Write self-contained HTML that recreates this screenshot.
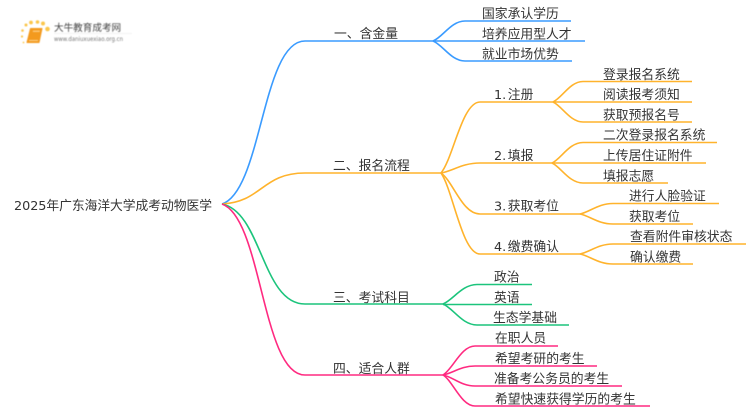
<!DOCTYPE html>
<html><head><meta charset="utf-8">
<style>
html,body{margin:0;padding:0;background:#fff}
svg{display:block}
text{font-family:"DejaVu Sans","Noto Sans CJK SC",sans-serif;font-size:12.8px;fill:#333;word-spacing:-2.5px}
path{fill:none;stroke-width:1.6}
.b path{stroke:#3a9bff}.o path{stroke:#ffb32c}.g path{stroke:#1cc47c}.p path{stroke:#ff2a80}
.t{filter:blur(.25px)}
</style></head>
<body>
<svg width="750" height="410" viewBox="0 0 750 410" xmlns="http://www.w3.org/2000/svg">
<!-- logo -->
<g style="filter:blur(.4px)">
<g fill="#fbc64a" stroke="none">
<circle cx="47.500" cy="29" r="2.300"/><circle cx="43" cy="23.500" r="2"/><circle cx="37.500" cy="22" r="1.800"/><circle cx="31" cy="22.500" r="1.900"/><circle cx="26" cy="25" r="1.500"/><circle cx="22.500" cy="30.500" r="1.300"/><circle cx="22" cy="36.500" r="1.100"/><circle cx="23.500" cy="42.500" r=".9"/>
</g>
<polygon points="30.500,28.500 42,28.500 39,42.500 27,42.500" fill="#f39a1e" stroke="#f39a1e" stroke-width="1" stroke-linejoin="round"/>
<polygon points="33,30.500 40,30.500 39.700,32 32.700,32" fill="#fbc878"/>
<line x1="29" y1="40.500" x2="38" y2="40.500" stroke="#fde3b0" stroke-width=".8"/>
<text x="54" y="31" style="font-size:9.600px;fill:#444;word-spacing:0">大牛教育成考网</text>
<text x="54" y="41" textLength="69" lengthAdjust="spacingAndGlyphs" style="font-size:6.500px;fill:#777;word-spacing:0">www.daniuxuexiao.org.cn</text>
<line x1="54" y1="33.500" x2="132" y2="33.500" stroke="#eee" stroke-width=".8"/>
</g>

<g class="b">
<path d="M222 204C262 191 262 41 305 41H433"/>
<path d="M433 41C443 37 451 21 465 21H571"/>
<path d="M433 41H585"/>
<path d="M433 41C443 45 451 61 465 61H572"/>
</g>
<g class="o">
<path d="M222 204C262 202 262 173 305 173H441"/>
<path d="M441 173C453 159 462 102 480 102H553"/>
<path d="M441 173C453 171 462 163 480 163H552"/>
<path d="M441 173C453 181 462 214 480 214H580"/>
<path d="M441 173C453 190 462 254 480 254H580"/>
<path d="M553 102C562 98 570 81.500 583 81.500H692"/>
<path d="M553 102H692"/>
<path d="M553 102C562 106 570 122 583 122H692"/>
<path d="M552 163C561 159 569 142.500 583 142.500H717"/>
<path d="M552 163H706"/>
<path d="M552 163C561 167 569 183 583 183H668"/>
<path d="M580 214C590 212 598 203.500 613 203.500H719"/>
<path d="M580 214C590 216 598 224 613 224H693"/>
<path d="M580 254C590 252 598 244 613 244H746"/>
<path d="M580 254C590 256 598 264 613 264H693"/>
</g>
<g class="g">
<path d="M222 204C262 212 262 304 305 304H443"/>
<path d="M443 304C453 300 462 284.500 477 284.500H532"/>
<path d="M443 304.500H532"/>
<path d="M443 304C453 308 462 325 477 325H569"/>
</g>
<g class="p">
<path d="M222 204C262 218 262 375 305 375H443"/>
<path d="M443 375C453 369 461 346 475 346H558"/>
<path d="M443 375C453 373 461 366 475 366H597"/>
<path d="M443 375C453 377 461 386 475 386H622"/>
<path d="M443 375C453 381 461 406 475 406H650"/>
</g>

<g class="t">
<text x="14" y="210" textLength="198">2025年广东海洋大学成考动物医学</text>

<text x="334" y="38">一、含金量</text>
<text x="482" y="18">国家承认学历</text>
<text x="482" y="38.500">培养应用型人才</text>
<text x="482" y="58.500">就业市场优势</text>

<text x="333" y="170">二、报名流程</text>
<text x="494" y="99">1. 注册</text>
<text x="603" y="79">登录报名系统</text>
<text x="603" y="99">阅读报考须知</text>
<text x="603" y="119.500">获取预报名号</text>
<text x="494" y="160">2. 填报</text>
<text x="603" y="139.500">二次登录报名系统</text>
<text x="603" y="160">上传居住证附件</text>
<text x="603" y="180.500">填报志愿</text>
<text x="494" y="210.500">3. 获取考位</text>
<text x="629" y="200.500">进行人脸验证</text>
<text x="629" y="221">获取考位</text>
<text x="494" y="251">4. 缴费确认</text>
<text x="630" y="241">查看附件审核状态</text>
<text x="630" y="261.500">确认缴费</text>

<text x="333" y="302">三、考试科目</text>
<text x="494" y="281.500">政治</text>
<text x="494" y="302">英语</text>
<text x="493" y="322">生态学基础</text>

<text x="333" y="373">四、适合人群</text>
<text x="495" y="342.500">在职人员</text>
<text x="495" y="363">希望考研的考生</text>
<text x="494" y="383">准备考公务员的考生</text>
<text x="495" y="403.500">希望快速获得学历的考生</text>
</g>
</svg>
</body></html>
